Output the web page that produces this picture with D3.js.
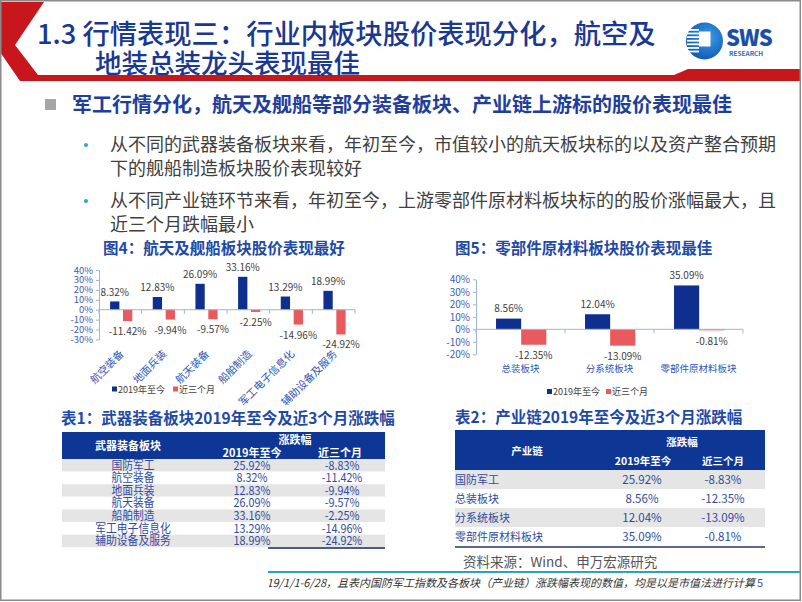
<!DOCTYPE html>
<html><head><meta charset="utf-8">
<script src="https://cdn.jsdelivr.net/npm/d3@7"></script>
<style>
html,body{margin:0;padding:0;background:#fff;}
svg{display:block;}
text{font-family:"Noto Sans CJK SC","Noto Sans",sans-serif;}
</style></head><body>
<svg id="c" width="802" height="602"></svg>
<script>
// ---------- data ----------
const seriesNames = ["2019年至今", "近三个月"];
const weaponCats = ["航空装备", "地面兵装", "航天装备", "船舶制造", "军工电子信息化", "辅助设备及服务"];
const weaponYTD = [8.32, 12.83, 26.09, 33.16, 13.29, 18.99];
const weapon3M = [-11.42, -9.94, -9.57, -2.25, -14.96, -24.92];
const chainCats = ["总装板块", "分系统板块", "零部件原材料板块"];
const chainYTD = [8.56, 12.04, 35.09];
const chain3M = [-12.35, -13.09, -0.81];
const indexName = "国防军工";
const indexYTD = 25.92;
const index3M = -8.83;
const chart1Ticks = [40, 30, 20, 10, 0, -10, -20, -30];
const chart2Ticks = [40, 30, 20, 10, 0, -10, -20];

const titleLine1 = "1.3 行情表现三：行业内板块股价表现分化，航空及";
const titleLine2 = "地装总装龙头表现最佳";
const heading = "军工行情分化，航天及舰船等部分装备板块、产业链上游标的股价表现最佳";
const bullets = [
  ["从不同的武器装备板块来看，年初至今，市值较小的航天板块标的以及资产整合预期", "下的舰船制造板块股价表现较好"],
  ["从不同产业链环节来看，年初至今，上游零部件原材料板块标的的股价涨幅最大，且", "近三个月跌幅最小"]
];
const chart1Title = "图4：航天及舰船板块股价表现最好";
const chart2Title = "图5：零部件原材料板块股价表现最佳";
const table1Title = "表1：武器装备板块2019年至今及近3个月涨跌幅";
const table2Title = "表2：产业链2019年至今及近3个月涨跌幅";
const table1Head = ["武器装备板块", "涨跌幅", "2019年至今", "近三个月"];
const table2Head = ["产业链", "涨跌幅", "2019年至今", "近三个月"];
const sourceText = "资料来源：Wind、申万宏源研究";
const footText = "注：统计区间为2019/1/1-6/28，且表内国防军工指数及各板块（产业链）涨跌幅表现的数值，均是以是市值法进行计算";
const pageNo = "5";

// ---------- styles ----------
const BLUE = "#0f2f8e", RED = "#e95a5e", NAVY = "#1a3892", AXIS = "#a3b2d8", LBL = "#3d5db3";
const lblF = "'Liberation Sans',Arial,sans-serif";
const fmt = v => v.toFixed(2) + "%";

const svg = d3.select("#c");
svg.append("rect").attr("x", 0).attr("y", 0).attr("width", 802).attr("height", 602).attr("fill", "#fff");

// ---------- header ----------
svg.append("path").attr("d", "M0,2 L44,2 L15,45 L38,75 L674,75 L688,69 L800,69 L800,81 L20,81 L0,52 Z")
  .attr("fill", "#c8161d");
svg.append("text").attr("x", 37).attr("y", 44).attr("font-size", 27.3).attr("fill", NAVY)
  .attr("font-weight", 500).text(titleLine1);
svg.append("text").attr("x", 95).attr("y", 73).attr("font-size", 26.5).attr("fill", NAVY)
  .attr("font-weight", 500).text(titleLine2);

// logo
const defs = svg.append("defs");
const rg = defs.append("radialGradient").attr("id", "lg").attr("cx", "60%").attr("cy", "40%").attr("r", "70%");
rg.append("stop").attr("offset", "0%").attr("stop-color", "#39a0e8");
rg.append("stop").attr("offset", "100%").attr("stop-color", "#0d4fb0");
const logo = svg.append("g");
logo.append("circle").attr("cx", 704.5).attr("cy", 41).attr("r", 18.5).attr("fill", "url(#lg)");
d3.range(7).forEach(i => {
  logo.append("rect").attr("x", 687).attr("y", 29 + i * 3.6).attr("width", 12).attr("height", 1.8).attr("fill", "#fff");
});
logo.append("rect").attr("x", 699).attr("y", 31.5).attr("width", 11.5).attr("height", 15).attr("fill", "#fff");
logo.append("text").attr("x", 726).attr("y", 46).attr("font-size", 22).attr("font-weight", 900)
  .attr("font-family", "'DejaVu Sans',sans-serif").attr("fill", "#1b4fa6").attr("letter-spacing", -1).text("SWS");
logo.append("text").attr("x", 729).attr("y", 55.5).attr("font-size", 6.5).attr("font-weight", 700)
  .attr("font-family", "'DejaVu Sans',sans-serif").attr("fill", "#1f70c4").text("RESEARCH");

// ---------- heading & bullets ----------
svg.append("rect").attr("x", 45).attr("y", 99).attr("width", 11).attr("height", 11).attr("fill", "#a6a6a6");
svg.append("text").attr("x", 72).attr("y", 112).attr("font-size", 20).attr("font-weight", 700)
  .attr("fill", "#1f3e9c").text(heading);
const bulletY = [[151, 175], [207, 231]];
bullets.forEach((b, i) => {
  svg.append("circle").attr("cx", 86).attr("cy", bulletY[i][0] - 6).attr("r", 2).attr("fill", "#29a6d8");
  b.forEach((line, j) => {
    svg.append("text").attr("x", 110).attr("y", bulletY[i][j]).attr("font-size", 18)
      .attr("fill", "#404040").text(line);
  });
});

// ---------- chart 1 ----------
svg.append("text").attr("x", 103).attr("y", 254).attr("font-size", 15.5).attr("font-weight", 700)
  .attr("fill", "#1e4aa6").text(chart1Title);
const y1 = d3.scaleLinear().domain([-30, 40]).range([339.5, 270]);
const x1 = d3.scaleBand().domain(weaponCats).range([99, 355]);
const bw1 = x1.bandwidth();
const xs1 = d3.scaleBand().domain(seriesNames).range([bw1 * 0.26, bw1 * 0.78]).paddingInner(0.28);
const g1 = svg.append("g");
const ax1 = g1.append("g").attr("transform", "translate(99,0)")
  .call(d3.axisLeft(y1).tickValues(chart1Ticks).tickFormat(d => d + "%").tickSize(3).tickSizeOuter(0));
ax1.select(".domain").attr("stroke", AXIS);
ax1.selectAll(".tick line").attr("stroke", AXIS);
ax1.selectAll(".tick text").attr("fill", LBL).attr("font-size", 9.5).attr("x", -6).attr("font-family", lblF);
const d1 = weaponCats.map((c, i) => ({ c, a: weaponYTD[i], b: weapon3M[i] }));
g1.selectAll(".ba").data(d1).join("rect")
  .attr("x", d => x1(d.c) + xs1(seriesNames[0])).attr("width", xs1.bandwidth())
  .attr("y", d => y1(Math.max(0, d.a))).attr("height", d => Math.abs(y1(d.a) - y1(0))).attr("fill", BLUE);
g1.selectAll(".bb").data(d1).join("rect")
  .attr("x", d => x1(d.c) + xs1(seriesNames[1])).attr("width", xs1.bandwidth())
  .attr("y", d => y1(Math.max(0, d.b))).attr("height", d => Math.abs(y1(d.b) - y1(0))).attr("fill", RED);
g1.append("line").attr("x1", x1.range()[0]).attr("x2", x1.range()[1]).attr("y1", y1(0)).attr("y2", y1(0)).attr("stroke", AXIS);
weaponCats.map(c => x1(c)).concat([x1.range()[1]]).forEach(x => {
  g1.append("line").attr("x1", x).attr("x2", x).attr("y1", y1(0)).attr("y2", y1(0) + 4).attr("stroke", AXIS);
});
g1.selectAll(".la").data(d1).join("text")
  .attr("x", d => x1(d.c) + xs1(seriesNames[0]) + xs1.bandwidth() / 2).attr("y", d => y1(d.a) - 5.5)
  .attr("text-anchor", "middle").attr("font-size", 10).attr("fill", "#404040").attr("font-family", lblF)
  .text(d => fmt(d.a));
g1.selectAll(".lb").data(d1).join("text")
  .attr("x", d => x1(d.c) + xs1(seriesNames[1]) + xs1.bandwidth() / 2).attr("y", d => y1(d.b) + 14)
  .attr("text-anchor", "middle").attr("font-size", 10).attr("fill", "#404040").attr("font-family", lblF)
  .text(d => fmt(d.b));
g1.selectAll(".cat").data(weaponCats).join("text")
  .attr("transform", c => `translate(${x1(c) + bw1 / 2 + 1.5},${352}) rotate(-45)`)
  .attr("text-anchor", "end").attr("dy", "0.35em").attr("font-size", 10.5).attr("fill", "#2d55b5").text(c => c);
[[112, BLUE, seriesNames[0]], [173, RED, seriesNames[1]]].forEach(([x, col, t]) => {
  svg.append("rect").attr("x", x).attr("y", 386.5).attr("width", 5).attr("height", 5).attr("fill", col);
  svg.append("text").attr("x", x + 6).attr("y", 392.5).attr("font-size", 9).attr("fill", "#404040").text(t);
});

// ---------- chart 2 ----------
svg.append("text").attr("x", 455).attr("y", 254).attr("font-size", 15.5).attr("font-weight", 700)
  .attr("fill", "#1e4aa6").text(chart2Title);
const y2 = d3.scaleLinear().domain([-20, 40]).range([354.3, 279.3]);
const x2 = d3.scaleBand().domain(chainCats).range([476, 743]);
const bw2 = x2.bandwidth();
const xs2 = d3.scaleBand().domain(seriesNames).range([bw2 * 0.225, bw2 * 0.79]).paddingInner(0);
const g2 = svg.append("g");
const ax2 = g2.append("g").attr("transform", "translate(476,0)")
  .call(d3.axisLeft(y2).tickValues(chart2Ticks).tickFormat(d => d + "%").tickSize(3).tickSizeOuter(0));
ax2.select(".domain").attr("stroke", AXIS);
ax2.selectAll(".tick line").attr("stroke", AXIS);
ax2.selectAll(".tick text").attr("fill", LBL).attr("font-size", 10).attr("x", -6).attr("font-family", lblF);
const d2 = chainCats.map((c, i) => ({ c, a: chainYTD[i], b: chain3M[i] }));
g2.selectAll(".ba").data(d2).join("rect")
  .attr("x", d => x2(d.c) + xs2(seriesNames[0])).attr("width", xs2.bandwidth())
  .attr("y", d => y2(Math.max(0, d.a))).attr("height", d => Math.abs(y2(d.a) - y2(0))).attr("fill", BLUE);
g2.selectAll(".bb").data(d2).join("rect")
  .attr("x", d => x2(d.c) + xs2(seriesNames[1])).attr("width", xs2.bandwidth())
  .attr("y", d => y2(Math.max(0, d.b))).attr("height", d => Math.abs(y2(d.b) - y2(0))).attr("fill", RED);
g2.append("line").attr("x1", x2.range()[0]).attr("x2", x2.range()[1]).attr("y1", y2(0)).attr("y2", y2(0)).attr("stroke", AXIS);
chainCats.map(c => x2(c)).concat([x2.range()[1]]).forEach(x => {
  g2.append("line").attr("x1", x).attr("x2", x).attr("y1", y2(0)).attr("y2", y2(0) + 4).attr("stroke", AXIS);
});
g2.selectAll(".la").data(d2).join("text")
  .attr("x", d => x2(d.c) + xs2(seriesNames[0]) + xs2.bandwidth() / 2).attr("y", d => y2(d.a) - 6.5)
  .attr("text-anchor", "middle").attr("font-size", 10).attr("fill", "#404040").attr("font-family", lblF)
  .text(d => fmt(d.a));
g2.selectAll(".lb").data(d2).join("text")
  .attr("x", d => x2(d.c) + xs2(seriesNames[1]) + xs2.bandwidth() / 2).attr("y", d => y2(d.b) + 14.5)
  .attr("text-anchor", "middle").attr("font-size", 10).attr("fill", "#404040").attr("font-family", lblF)
  .text(d => fmt(d.b));
g2.selectAll(".cat").data(chainCats).join("text")
  .attr("x", c => x2(c) + bw2 / 2).attr("y", 371.5).attr("text-anchor", "middle")
  .attr("font-size", 9.5).attr("fill", "#2d55b5").text(c => c);
[[547, BLUE, seriesNames[0]], [606, RED, seriesNames[1]]].forEach(([x, col, t]) => {
  svg.append("rect").attr("x", x).attr("y", 389).attr("width", 5).attr("height", 5).attr("fill", col);
  svg.append("text").attr("x", x + 6).attr("y", 395).attr("font-size", 9).attr("fill", "#404040").text(t);
});

// ---------- table 1 ----------
svg.append("text").attr("x", 61).attr("y", 424).attr("font-size", 15.5).attr("font-weight", 700)
  .attr("fill", "#1e4aa6").text(table1Title);
const t1x = 62, t1w = 323, t1top = 432, t1hh = 27, t1rh = 12.6;
svg.append("rect").attr("x", t1x).attr("y", t1top).attr("width", t1w).attr("height", t1hh).attr("fill", "#0e3694");
const hd = (x, y, t, fs) => svg.append("text").attr("x", x).attr("y", y).attr("text-anchor", "middle")
  .attr("font-size", fs).attr("font-weight", 700).attr("fill", "#fff").text(t);
hd(128, 450, table1Head[0], 11); hd(295, 444, table1Head[1], 11);
hd(252, 457, table1Head[2], 11); hd(340, 457, table1Head[3], 11);
const rows1 = [[indexName, indexYTD, index3M]].concat(weaponCats.map((c, i) => [c, weaponYTD[i], weapon3M[i]]));
const rg1 = svg.append("g").selectAll("g").data(rows1).join("g")
  .attr("transform", (d, i) => `translate(0,${t1top + t1hh + i * t1rh})`);
rg1.append("rect").attr("x", t1x).attr("width", t1w).attr("height", t1rh)
  .attr("fill", (d, i) => i % 2 === 0 ? "#e5e5e5" : "#fff");
const cell = (sel, x, f) => sel.append("text").attr("transform", `translate(${x},${t1rh / 2 + 4.2}) scale(0.9,1)`)
  .attr("text-anchor", "middle").attr("font-size", 12).attr("fill", "#2f4ba0").text(f);
cell(rg1, 133, d => d[0]); cell(rg1, 252, d => fmt(d[1])); cell(rg1, 342, d => fmt(d[2]));
svg.append("line").attr("x1", 268).attr("x2", 385).attr("y1", 548).attr("y2", 548)
  .attr("stroke", "#4e5d86").attr("stroke-width", 2);

// ---------- table 2 ----------
svg.append("text").attr("x", 455).attr("y", 423).attr("font-size", 15.5).attr("font-weight", 700)
  .attr("fill", "#1e4aa6").text(table2Title);
const t2x = 455, t2w = 310, t2top = 430, t2hh = 40, t2rh = 19;
svg.append("rect").attr("x", t2x).attr("y", t2top).attr("width", t2w).attr("height", t2hh).attr("fill", "#0e3694");
hd(527, 455, table2Head[0], 10.5); hd(682, 446, table2Head[1], 10.5);
hd(643, 465, table2Head[2], 10.5); hd(723, 465, table2Head[3], 10.5);
const rows2 = [[indexName, indexYTD, index3M]].concat(chainCats.map((c, i) => [c, chainYTD[i], chain3M[i]]));
const rg2 = svg.append("g").selectAll("g").data(rows2).join("g")
  .attr("transform", (d, i) => `translate(0,${t2top + t2hh + i * t2rh})`);
rg2.append("rect").attr("x", t2x).attr("width", t2w).attr("height", t2rh)
  .attr("fill", (d, i) => i % 2 === 0 ? "#e5e5e5" : "#fff");
rg2.append("text").attr("x", 455).attr("y", t2rh / 2 + 4).attr("font-size", 11).attr("fill", "#2f4ba0").text(d => d[0]);
rg2.append("text").attr("x", 642).attr("y", t2rh / 2 + 4).attr("text-anchor", "middle").attr("font-size", 11.5)
  .attr("fill", "#2f4ba0").text(d => fmt(d[1]));
rg2.append("text").attr("x", 723).attr("y", t2rh / 2 + 4).attr("text-anchor", "middle").attr("font-size", 11.5)
  .attr("fill", "#2f4ba0").text(d => fmt(d[2]));
svg.append("line").attr("x1", 455).attr("x2", 765).attr("y1", 547).attr("y2", 547)
  .attr("stroke", "#5a6890").attr("stroke-width", 2);
svg.append("text").attr("x", 463).attr("y", 567).attr("font-size", 13.5).attr("fill", "#555").text(sourceText);

// ---------- footer ----------
svg.append("line").attr("x1", 268).attr("x2", 800).attr("y1", 572).attr("y2", 572)
  .attr("stroke", "#2aa1c9").attr("stroke-width", 2);
defs.append("clipPath").attr("id", "fc").append("rect").attr("x", 269).attr("y", 574).attr("width", 533).attr("height", 20);
svg.append("text").attr("clip-path", "url(#fc)").attr("x", 755).attr("y", 587).attr("text-anchor", "end")
  .attr("font-size", 11).attr("font-style", "italic").attr("fill", "#333").text(footText);
svg.append("text").attr("x", 757).attr("y", 587).attr("font-size", 11).attr("fill", "#2e5cb8").text(pageNo);

// frame
svg.append("rect").attr("x", 0.75).attr("y", 0.75).attr("width", 799.5).attr("height", 599.5)
  .attr("fill", "none").attr("stroke", "#8a8a8a").attr("stroke-width", 1.5);
</script>
</body></html>
